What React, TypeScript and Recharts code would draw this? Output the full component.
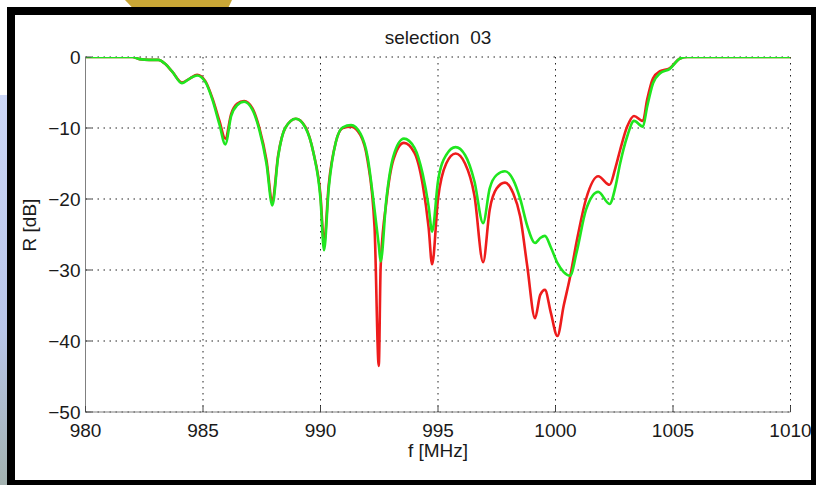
import React from 'react';
import { LineChart, Line, XAxis, YAxis, CartesianGrid } from 'recharts';

// frequency grid (MHz) and reflection values (dB)
const freq = [
  980, 981, 982, 982.3, 982.7, 983.1, 983.4, 983.7, 984.1, 984.45, 984.75, 985.1, 985.4, 985.7,
  985.95, 986.2, 986.45, 986.75, 987.1, 987.4, 987.7, 987.95, 988.2, 988.5, 988.95, 989.35,
  989.7, 990.0, 990.15, 990.35, 990.65, 990.95, 991.3, 991.7, 992.0, 992.3, 992.48, 992.56,
  992.8, 993.1, 993.55, 994.0, 994.35, 994.6, 994.75, 995.0, 995.35, 995.75, 996.15, 996.55,
  996.92, 997.2, 997.5, 997.85, 998.2, 998.5, 998.8, 999.13, 999.35, 999.55, 999.8, 1000.08,
  1000.35, 1000.62, 1000.9, 1001.3, 1001.82, 1002.3, 1002.55, 1002.75, 1003.05, 1003.34,
  1003.72, 1003.9, 1004.15, 1004.45, 1004.85, 1005.3, 1005.6, 1006.5, 1008, 1010,
];

const red = [
  0, 0, 0, -0.3, -0.4, -0.4, -1.0, -2.1, -3.6, -3.0, -2.5, -3.4, -5.8, -9.0,
  -11.5, -8.0, -6.6, -6.2, -7.2, -10.0, -14.5, -20.3, -13.8, -10.0, -8.7, -9.8,
  -13.5, -19.5, -26.2, -18.0, -12.0, -10.0, -9.8, -11.0, -14.5, -24.0, -43.5, -29.5,
  -20.5, -14.5, -12.1, -13.5, -18.0, -24.0, -29.2, -20.0, -15.0, -13.6, -15.0, -19.5,
  -28.9, -21.5, -18.5, -17.7, -19.2, -22.5, -29.5, -36.8, -33.5, -32.8, -36.0, -39.3,
  -35.0, -31.0, -26.0, -20.0, -16.8, -18.0, -15.6, -13.1, -9.8, -8.3,
  -9.0, -6.0, -3.0, -2.0, -1.6, -0.2, 0, 0, 0, 0,
];

const green = [
  0, 0, 0, -0.3, -0.4, -0.4, -1.0, -2.1, -3.7, -3.0, -2.6, -3.5, -6.0, -9.5,
  -12.3, -8.3, -6.8, -6.3, -7.4, -10.3, -15.0, -20.9, -14.0, -10.0, -8.7, -9.9,
  -13.5, -20.0, -27.2, -18.5, -12.0, -9.9, -9.6, -10.8, -14.0, -21.5, -26.5, -28.8,
  -20.1, -14.0, -11.5, -12.8, -16.5, -21.0, -24.6, -17.5, -13.8, -12.7, -13.8, -17.5,
  -23.4, -18.5, -16.6, -16.1, -17.3, -20.0, -23.8, -26.2, -25.5, -25.2, -26.8, -29.0,
  -30.3, -30.8, -27.5, -21.5, -19.0, -20.7, -18.3, -15.0, -11.2, -9.0,
  -9.8, -7.0, -3.7, -2.3, -1.7, -0.2, 0, 0, 0, 0,
];

const xTicks = [980, 985, 990, 995, 1000, 1005, 1010];
const yTicks = [0, -10, -20, -30, -40, -50];

const data = freq.map((f, i) => ({ f, red: red[i], green: green[i] }));

const FONT = '"Liberation Sans", Arial, sans-serif';
const TEXT = '#1a1a1a';

const XTick = (props: any) => {
  const { x, y, payload } = props;
  return (
    <g>
      <line x1={x} x2={x} y1={y} y2={y - 6} stroke="#444" strokeWidth={1} />
      <text x={x} y={y + 25} textAnchor="middle" fontFamily={FONT} fontSize={19} fill={TEXT}>
        {payload.value}
      </text>
    </g>
  );
};

const YTick = (props: any) => {
  const { x, y, payload } = props;
  const label = String(payload.value).replace('-', '\u2212');
  return (
    <g>
      <line x1={x} x2={x + 6} y1={y} y2={y} stroke="#444" strokeWidth={1} />
      <text x={x - 5} y={y + 6.5} textAnchor="end" fontFamily={FONT} fontSize={19} fill={TEXT}>
        {label}
      </text>
    </g>
  );
};

export default function App() {
  return (
    <div style={{ position: 'absolute', left: 0, top: 0, width: 816, height: 485, background: '#fff', overflow: 'hidden' }}>
      {/* slide decorations around the figure */}
      <div
        style={{
          position: 'absolute', left: 125, top: 0, width: 107, height: 9, background: '#c9a636',
          clipPath: 'polygon(0 0, 100% 0, 96% 100%, 8% 100%)',
        }}
      />
      <div
        style={{
          position: 'absolute', left: 0, top: 95, width: 8, height: 390,
          background: 'linear-gradient(#cdd7f7, #b9c6ea 60%, #a3b2b0)',
        }}
      />
      <div
        style={{
          position: 'absolute', left: 7, top: 7, width: 796, height: 465, background: '#fff',
          borderStyle: 'solid', borderColor: '#000', borderWidth: '8px 5px 5px 8px',
        }}
      />

      <div style={{ position: 'absolute', left: 0, top: 0 }}>
        <LineChart width={816} height={485} data={data} margin={{ top: 57, right: 25.5, bottom: 43, left: 25.5 }}>
          <CartesianGrid stroke="#222" strokeDasharray="1.5 4.5" strokeWidth={1} />
          <XAxis
            dataKey="f"
            type="number"
            domain={[980, 1010]}
            ticks={xTicks}
            allowDataOverflow
            height={30}
            tickSize={0}
            tickMargin={0}
            tickLine={false}
            axisLine={{ stroke: '#808080', strokeWidth: 1 }}
            tick={<XTick />}
            interval={0}
          />
          <YAxis
            type="number"
            domain={[-50, 0]}
            ticks={yTicks}
            allowDataOverflow
            width={60}
            tickSize={0}
            tickMargin={0}
            tickLine={false}
            axisLine={{ stroke: '#808080', strokeWidth: 1 }}
            tick={<YTick />}
            interval={0}
          />
          <Line type="monotone" dataKey="red" stroke="#ee1c1c" strokeWidth={2.6} dot={false} isAnimationActive={false} />
          <Line type="monotone" dataKey="green" stroke="#1fe61f" strokeWidth={2.6} dot={false} isAnimationActive={false} />
        </LineChart>
      </div>

      <div style={{ position: 'absolute', left: 338, top: 27, width: 200, textAlign: 'center', fontFamily: FONT, fontSize: 19, color: TEXT, whiteSpace: 'pre' }}>
        {'selection  03'}
      </div>
      <div style={{ position: 'absolute', left: 338, top: 440, width: 200, textAlign: 'center', fontFamily: FONT, fontSize: 19, color: TEXT }}>
        f [MHz]
      </div>
      <div
        style={{
          position: 'absolute', left: 30, top: 225, width: 0, height: 0, fontFamily: FONT, fontSize: 19, color: TEXT,
        }}
      >
        <div style={{ position: 'absolute', left: -50, top: -11, width: 100, textAlign: 'center', transform: 'rotate(-90deg)', whiteSpace: 'nowrap' }}>
          R [dB]
        </div>
      </div>
    </div>
  );
}
